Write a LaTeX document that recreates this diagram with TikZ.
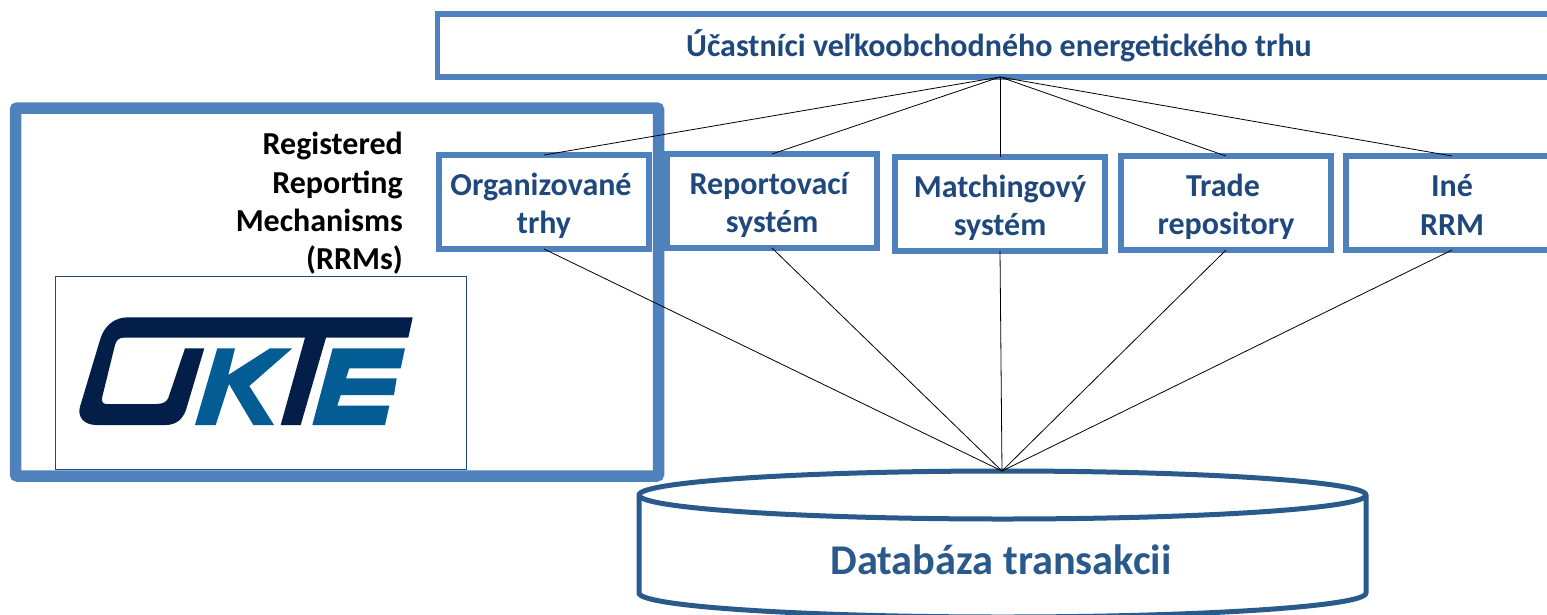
\documentclass[tikz,border=0pt]{standalone}
\usepackage{fontspec}
\setmainfont{Carlito}
\definecolor{frameblue}{HTML}{4F81BD}
\definecolor{textblue}{HTML}{1F497D}
\definecolor{dbblue}{HTML}{2A5A8C}
\definecolor{navy}{HTML}{041E4A}
\definecolor{logoblue}{HTML}{045C94}
\newcommand{\lowerfirst}{\rule{0pt}{30pt}}
\newcommand{\pushleft}{\rule{6pt}{0pt}}
\tikzset{
 rrmbox/.style={draw=frameblue,line width=5.5pt,fill=white,outer sep=0pt,inner sep=0pt,align=center,text=textblue,font=\fontsize{32}{38.5}\selectfont\bfseries},
 link/.style={draw=black,line width=0.8pt}
}
\begin{document}
\begin{tikzpicture}[x=1pt,y=-1pt]
\useasboundingbox (0,0) rectangle (1547,614);
\clip (0,0) rectangle (1547,614);
% large frame
\draw[frameblue,line width=11.5pt,rounded corners=2pt,fill=white] (15.5,108) rectangle (658.5,476);
% top box
\node[rrmbox,minimum width=1125pt,minimum height=63pt,anchor=north west] (top) at (437.5,14) {};
\node[text=textblue,font=\fontsize{32}{38}\selectfont\bfseries,inner sep=0pt] (toplabel) at (999,46) {Účastníci veľkoobchodného energetického trhu};
% boxes
\node[rrmbox,minimum width=210pt,minimum height=94pt] (b1) at (544,202) {\lowerfirst Organizované\pushleft\\trhy};
\node[rrmbox,minimum width=210pt,minimum height=94pt] (b2) at (772,201) {\lowerfirst Reportovací\pushleft\\systém};
\node[rrmbox,minimum width=210pt,minimum height=94pt] (b3) at (1000,204) {\lowerfirst Matchingový\\systém};
\node[rrmbox,minimum width=210pt,minimum height=94pt] (b4) at (1226,203) {\lowerfirst Trade\pushleft\\repository};
\node[rrmbox,minimum width=212pt,minimum height=94pt] (b5) at (1452,203) {\rule{0pt}{26pt}Iné\\RRM};
% label
\node[anchor=north east,align=right,inner sep=0pt,text=black,font=\fontsize{32}{38.4}\selectfont\bfseries] (rrm) at (403,132) {Registered\\Reporting\\Mechanisms\\(RRMs)};
% logo
\node[draw=textblue,line width=1.3pt,fill=white,minimum width=411pt,minimum height=192.5pt,outer sep=0pt,inner sep=0pt] (logo) at (261,373) {};
\fill[navy] (128.3,317.3) -- (412.7,317.3) -- (408.3,337.7) -- (326,337.7) -- (300.7,425) -- (280.7,425) -- (305,337.7) -- (123.3,337.7)
  .. controls (119,337.7) and (116.5,340) .. (115,345) -- (102.3,396.7) .. controls (101,402) and (103,404) .. (106.7,404)
  -- (156,404) .. controls (163,404) and (166.5,402) .. (168.3,398) -- (185,348.3) -- (204.3,348.3) -- (186,410)
  .. controls (182,420) and (176,425) .. (165,425) -- (96.7,425) .. controls (84,425) and (77,417) .. (80,406.7)
  -- (100,340) .. controls (104,326) and (114,317.3) .. (128.3,317.3) -- cycle;
\fill[logoblue] (217.3,348.3) -- (235,348.3) -- (228.3,375) -- (270,348.3) -- (292.3,348.3) -- (249.3,386) -- (274,425) -- (253.3,425) -- (229,384) -- (215.7,425) -- (195,425) -- cycle;
\fill[logoblue] (332.7,348.3) -- (405,348.3) -- (400.7,368.3) -- (349.3,368.3) -- (346,378.3) -- (396.7,378.3) -- (394,395) -- (340.7,395) -- (337.3,405.7) -- (389.3,405.7) -- (385,425) -- (312.3,425) -- cycle;
% database
\coordinate (dbtop) at (1002,471);
\draw[dbblue,line width=5pt,fill=white,line join=round] (639,495) -- (639,593) arc[start angle=180,end angle=0,x radius=363.5,y radius=24] -- (1366,495) arc[start angle=0,end angle=-180,x radius=363.5,y radius=24] -- cycle;
\draw[dbblue,line width=5pt] (639,495) arc[start angle=180,end angle=0,x radius=363.5,y radius=24];
\node[text=dbblue,font=\fontsize{42.4}{48}\selectfont\bfseries,inner sep=0pt] (db) at (1001,560) {Databáza transakcii};
% links
\coordinate (topc) at (1000,77);
\foreach \b in {b1,b2,b3,b4,b5}{
 \draw[link] (topc) -- (\b.north);
 \draw[link] (\b.south) -- (dbtop);
}
\end{tikzpicture}
\end{document}
